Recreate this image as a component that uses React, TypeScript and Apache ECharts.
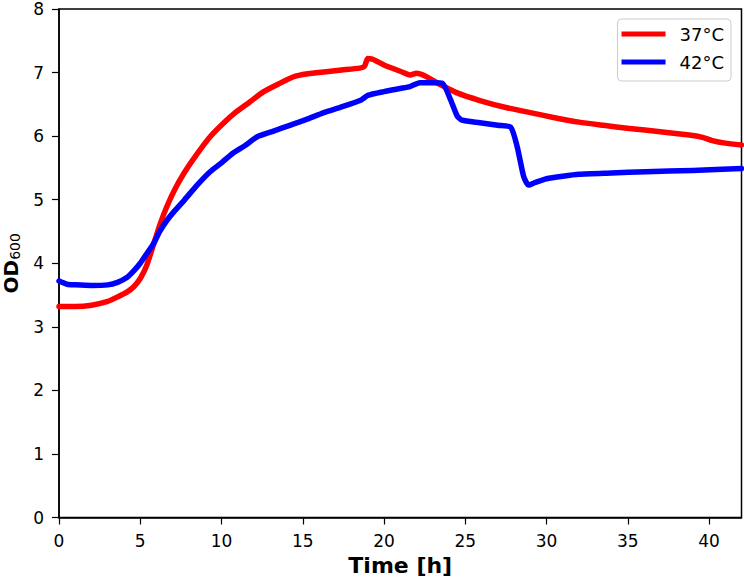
import React, { useEffect, useRef } from "react";
import * as echarts from "echarts";

const seriesNames = ["37°C", "42°C"];
const colors = ["#ff0000", "#0000ff"];

const time37 = [0, 1, 2, 3, 3.6, 4.2, 4.6, 5.0, 5.4, 5.8, 6.2, 6.6, 7.1, 7.7, 8.5, 9.3, 10.1, 10.9, 11.7, 12.6, 13.5, 14.4, 15.3, 16.3, 17.4, 18.5, 18.8, 19.0, 19.3, 20.0, 21.0, 21.6, 22.0, 22.5, 23.4, 24.5, 25.9, 27.5, 29.0, 30.5, 32.0, 33.5, 35.1, 37.0, 39.0, 39.6, 40.2, 41.0, 42];
const od37 = [3.32, 3.32, 3.34, 3.4, 3.47, 3.55, 3.63, 3.76, 3.97, 4.28, 4.6, 4.87, 5.15, 5.42, 5.72, 5.99, 6.2, 6.38, 6.53, 6.7, 6.82, 6.93, 6.98, 7.01, 7.04, 7.07, 7.1, 7.22, 7.21, 7.12, 7.02, 6.96, 6.99, 6.95, 6.82, 6.68, 6.56, 6.45, 6.37, 6.29, 6.22, 6.17, 6.12, 6.07, 6.01, 5.98, 5.93, 5.89, 5.86];

const time42 = [0, 0.5, 1, 2, 3, 3.6, 4.2, 4.6, 5.0, 5.4, 5.8, 6.2, 6.6, 7.1, 7.7, 8.5, 9.3, 10.0, 10.7, 11.5, 12.2, 13.2, 14.2, 15.2, 16.3, 17.4, 18.6, 19.0, 20.0, 21.0, 21.6, 22.2, 23.0, 23.6, 24.1, 24.5, 24.8, 25.9, 27.0, 27.8, 28.2, 28.6, 28.9, 29.3, 30.0, 31.0, 32.0, 34.0, 36.1, 39.0, 42];
const od42 = [3.72, 3.67, 3.66, 3.65, 3.66, 3.7, 3.78, 3.88, 4.0, 4.15, 4.3, 4.5, 4.66, 4.82, 4.99, 5.23, 5.44, 5.58, 5.73, 5.86, 5.99, 6.08, 6.17, 6.26, 6.37, 6.46, 6.57, 6.64, 6.7, 6.75, 6.78, 6.84, 6.84, 6.83, 6.57, 6.32, 6.25, 6.21, 6.17, 6.14, 5.83, 5.36, 5.23, 5.27, 5.33, 5.37, 5.4, 5.42, 5.44, 5.46, 5.49];

const xTicks = [0, 5, 10, 15, 20, 25, 30, 35, 40];
const yTicks = [0, 1, 2, 3, 4, 5, 6, 7, 8];

const FONT = "DejaVu Sans";

export default function App() {
  const ref = useRef<HTMLDivElement>(null);
  useEffect(() => {
    if (!ref.current) return;
    const chart = echarts.init(ref.current, undefined, { renderer: "svg" });
    const pairs = (t: number[], v: number[]) => t.map((x, i) => [x, v[i]]);
    chart.setOption({
      animation: false,
      backgroundColor: "#ffffff",
      textStyle: { fontFamily: FONT },
      grid: {
        left: 59,
        right: 2.5,
        top: 9,
        bottom: 61.5,
        containLabel: false,
        outerBoundsMode: "none",
        show: true,
        borderColor: "#000",
        borderWidth: 1.5,
        backgroundColor: "transparent",
      },
      legend: {
        data: seriesNames,
        orient: "vertical",
        right: 13,
        top: 19,
        icon: "rect",
        itemWidth: 44,
        itemHeight: 5,
        itemGap: 8,
        padding: [5, 7, 9, 4],
        borderColor: "#cccccc",
        borderWidth: 1,
        borderRadius: 4,
        backgroundColor: "rgba(255,255,255,0.8)",
        textStyle: { fontFamily: FONT, fontSize: 18, color: "#000", lineHeight: 20, padding: [0, 0, 0, 9] },
      },
      xAxis: {
        type: "value",
        min: 0,
        max: 42,
        interval: 5,
        name: "Time [h]",
        nameLocation: "middle",
        nameGap: 37,
        nameTextStyle: { fontFamily: FONT, fontSize: 22, fontWeight: "bold", color: "#000", verticalAlign: "top" },
        axisLine: { show: true, lineStyle: { color: "#000", width: 1.5 } },
        axisTick: { show: true, length: 7, lineStyle: { color: "#000", width: 1.2 } },
        axisLabel: {
          fontFamily: FONT,
          fontSize: 17,
          color: "#000",
          margin: 15,
          formatter: (v: number) => (xTicks.includes(v) ? String(v) : ""),
          showMaxLabel: false,
        },
        splitLine: { show: false },
      },
      yAxis: {
        type: "value",
        min: 0,
        max: 8,
        interval: 1,
        name: "OD{sub|600}",
        nameLocation: "middle",
        nameRotate: 90,
        nameGap: 37,
        nameTextStyle: {
          fontFamily: FONT,
          fontSize: 20,
          fontWeight: "bold",
          color: "#000",
          rich: {
            sub: { fontFamily: FONT, fontSize: 14, fontWeight: "normal", color: "#000", verticalAlign: "bottom", padding: [8, 0, 0, 0] },
          },
        },
        axisLine: { show: true, lineStyle: { color: "#000", width: 1.5 } },
        axisTick: { show: true, length: 7, lineStyle: { color: "#000", width: 1.2 } },
        axisLabel: {
          fontFamily: FONT,
          fontSize: 17,
          color: "#000",
          margin: 15,
          formatter: (v: number) => (yTicks.includes(v) ? String(v) : ""),
        },
        splitLine: { show: false },
      },
      series: [
        {
          name: seriesNames[0],
          type: "line",
          data: pairs(time37, od37),
          symbol: "none",
          smooth: 0.2,
          lineStyle: { color: colors[0], width: 5.5, join: "round", cap: "round" },
          itemStyle: { color: colors[0] },
          z: 3,
        },
        {
          name: seriesNames[1],
          type: "line",
          data: pairs(time42, od42),
          symbol: "none",
          smooth: 0.2,
          lineStyle: { color: colors[1], width: 5.5, join: "round", cap: "round" },
          itemStyle: { color: colors[1] },
          z: 4,
        },
      ],
    });
    return () => chart.dispose();
  }, []);
  return (
    <div
      ref={ref}
      style={{ position: "absolute", left: 0, top: 0, width: 744, height: 579 }}
    />
  );
}
